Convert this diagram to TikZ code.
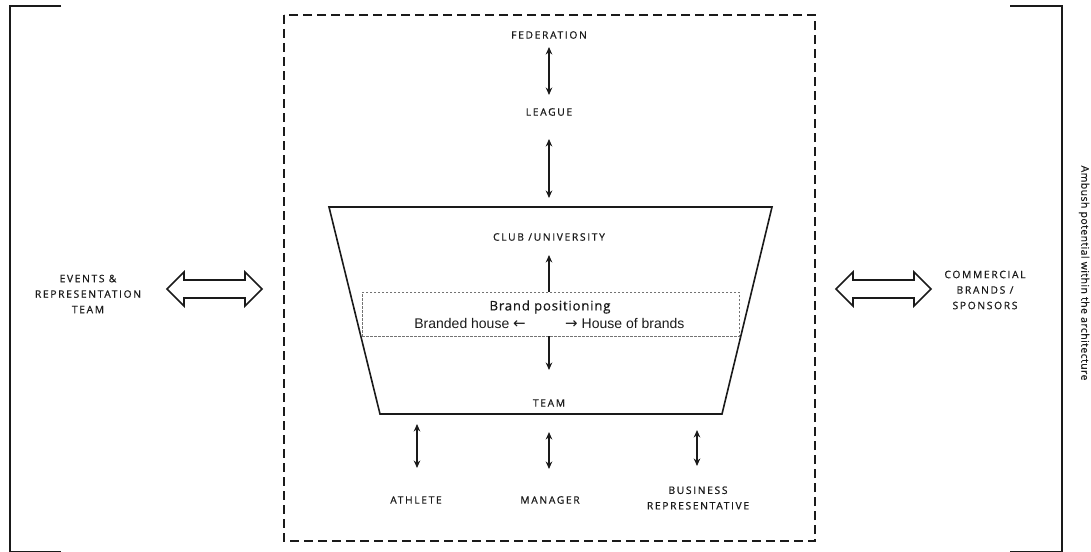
\documentclass[tikz,border=0pt]{standalone}
\usepackage{fontspec}
\setmainfont{Open Sans}
\newfontfamily\capsfont[LetterSpace=16,FakeBold=0.6]{Open Sans}
\newfontfamily\brandfont[LetterSpace=6,FakeBold=0.4]{Open Sans}
\newfontfamily\sidefont[LetterSpace=4,FakeBold=0.3]{Open Sans}
\newfontfamily\arialfont{Liberation Sans}
\newfontfamily\arrowfont{DejaVu Sans}
\usetikzlibrary{arrows.meta}
\definecolor{ink}{HTML}{1A1A1A}
\begin{document}
\begin{tikzpicture}[x=1pt,y=-1pt,
  lab/.style={font=\capsfont\fontsize{10.3}{15.5}\selectfont, text=ink, align=center, inner sep=0pt},
  link/.style={line width=1.6pt, draw=ink, {Stealth[length=7.5pt,width=6.5pt]}-{Stealth[length=7.5pt,width=6.5pt]}},
  onelink/.style={line width=1.6pt, draw=ink, -{Stealth[length=7.5pt,width=6.5pt]}},
  frame/.style={line width=2pt, draw=ink},
  dashframe/.style={line width=2pt, draw=ink, dash pattern=on 9pt off 5pt},
  trap/.style={line width=1.6pt, draw=ink, line join=miter},
  brandbox/.style={line width=0.8pt, draw=black!55, dash pattern=on 2.5pt off 1.5pt},
  fatarrow/.style={line width=1.6pt, draw=ink, line join=miter, fill=white}
]
\useasboundingbox (0,0) rectangle (1091,551);
\fill[white] (0,0) rectangle (1091,551);

% outer brackets
\draw[frame] (61,6) -- (10,6) -- (10,551.5) -- (61,551.5);
\draw[frame] (1010,6) -- (1062,6) -- (1062,551.5) -- (1010,551.5);

% dashed box
\draw[dashframe] (284,15) rectangle (815,541);

% trapezoid
\draw[trap] (329,207) -- (772,207) -- (722,414) -- (380,414) -- cycle;

% brand positioning box
\node[brandbox, minimum width=377pt, minimum height=44pt, inner sep=0pt] (brand) at (550.5,314) {};
\node[font=\brandfont\fontsize{13.2}{15}\selectfont, text=ink, inner sep=0pt] (bp) at (550,307) {Brand positioning};
\node[font=\arialfont\fontsize{14}{16}\selectfont, text=ink, anchor=east, inner sep=0pt] (bh) at (526,323) {Branded house {\arrowfont\fontsize{15}{16}\selectfont ←}};
\node[font=\arialfont\fontsize{14}{16}\selectfont, text=ink, anchor=west, inner sep=0pt] (hb) at (565,323) {{\arrowfont\fontsize{15}{16}\selectfont →} House of brands};

% labels
\node[lab] (fed) at (549,35) {FEDERATION};
\node[lab] (league) at (549,112) {LEAGUE};
\node[lab] (club) at (549,237) {CLUB /UNIVERSITY};
\node[lab] (team) at (549,403) {TEAM};
\node[lab] (athlete) at (416,500) {ATHLETE};
\node[lab] (manager) at (550,500) {MANAGER};
\node[lab] (business) at (698,498) {BUSINESS\\REPRESENTATIVE};
\node[lab] (events) at (88,294) {EVENTS \&\\REPRESENTATION\\TEAM};
\node[lab] (commercial) at (985,290) {COMMERCIAL\\BRANDS /\\SPONSORS};
\node[font=\sidefont\fontsize{10.5}{12}\selectfont, text=ink, rotate=-90, inner sep=0pt] (ambush) at (1084,273) {Ambush potential within the architecture};

% connector coordinates
\coordinate (f1) at (549,47);
\coordinate (l1) at (549,95);
\coordinate (l2) at (549,139);
\coordinate (c0) at (549,198);
\coordinate (bt) at (549,292);
\coordinate (cu) at (549,255);
\coordinate (bb) at (549,336);
\coordinate (td) at (549,370);
\coordinate (a1) at (417,424);
\coordinate (a2) at (417,468);
\coordinate (m1) at (549,432);
\coordinate (m2) at (549,469);
\coordinate (b1) at (697,430);
\coordinate (b2) at (697,466);

\draw[link] (f1) -- (l1);
\draw[link] (l2) -- (c0);
\draw[onelink] (bt) -- (cu);
\draw[onelink] (bb) -- (td);
\draw[link] (a1) -- (a2);
\draw[link] (m1) -- (m2);
\draw[link] (b1) -- (b2);

% fat double arrows
\draw[fatarrow] (167,289) -- (184,272) -- (184,280) -- (245,280) -- (245,272) -- (262,289)
  -- (245,306) -- (245,298) -- (184,298) -- (184,306) -- cycle;
\draw[fatarrow] (836,289) -- (853,272) -- (853,280) -- (914,280) -- (914,272) -- (931,289)
  -- (914,306) -- (914,298) -- (853,298) -- (853,306) -- cycle;
\end{tikzpicture}
\end{document}
